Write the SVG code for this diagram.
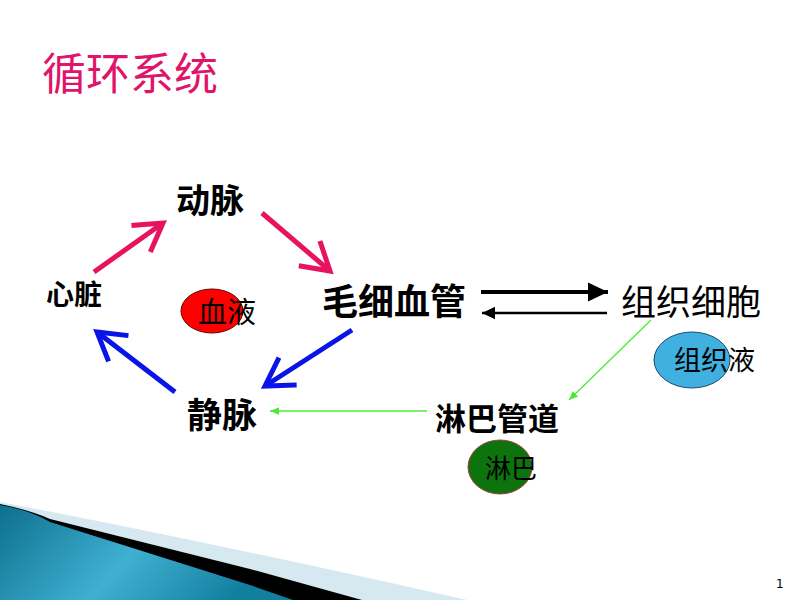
<svg xmlns="http://www.w3.org/2000/svg" width="800" height="600" viewBox="0 0 800 600">
<style>
text{font-family:"Noto Sans CJK SC","Liberation Sans",sans-serif;fill:#000}
.b{font-weight:bold}
.pk{stroke:#e8135e;stroke-width:5;fill:none}
.bl{stroke:#0a14e6;stroke-width:5;fill:none}
.gr{stroke:#4fe83a;stroke-width:1.3;fill:none}
.bk{stroke:#000;fill:none}
</style>
<defs>
<linearGradient id="teal" x1="0" y1="0" x2="1" y2="0.3">
<stop offset="0" stop-color="#0d6f8d"/>
<stop offset="0.55" stop-color="#3fb0d2"/>
<stop offset="1" stop-color="#137f9f"/>
</linearGradient>
<marker id="mpk" markerWidth="8" markerHeight="8" refX="6" refY="4" orient="auto" markerUnits="strokeWidth"><path d="M1,1 L6,4 L1,7" stroke="#e8135e" stroke-width="1" fill="none" stroke-linecap="square"/></marker>
<marker id="mbl" markerWidth="8" markerHeight="8" refX="6" refY="4" orient="auto" markerUnits="strokeWidth"><path d="M1,1 L6,4 L1,7" stroke="#0a14e6" stroke-width="1" fill="none" stroke-linecap="square"/></marker>
<marker id="mbk" markerWidth="6" markerHeight="6" refX="5" refY="3" orient="auto" markerUnits="strokeWidth"><path d="M0,0.6 L5,3 L0,5.4 Z" fill="#000"/></marker>
<marker id="mgr" markerWidth="8" markerHeight="8" refX="7" refY="4" orient="auto" markerUnits="strokeWidth"><path d="M0,1 L7,4 L0,7 Z" fill="#4fe83a"/></marker>
</defs>
<rect width="800" height="600" fill="#fff"/>
<g id="decor">
<path d="M0,502 Q200,540 467,600 L0,600 Z" fill="#d6e8f0"/>
<path d="M0,504 Q30,510 50,519 L250,569 L362,600 L0,600 Z" fill="#000"/>
<path d="M0,505 Q30,510 50,522 L250,585 L293,600 L0,600 Z" fill="url(#teal)"/>
</g>
<text x="42" y="90" font-size="44" style="fill:#e0156a">循环系统</text>
<g id="connectors">
<line class="pk" x1="94" y1="272" x2="163" y2="223" marker-end="url(#mpk)"/>
<line class="pk" x1="262" y1="213" x2="330" y2="271" marker-end="url(#mpk)"/>
<line class="bl" x1="352" y1="330" x2="265" y2="386" marker-end="url(#mbl)"/>
<line class="bl" x1="175" y1="392" x2="97" y2="332" marker-end="url(#mbl)"/>
<line class="bk" stroke-width="4" x1="481" y1="292" x2="608" y2="292" marker-end="url(#mbk)"/>
<line class="bk" stroke-width="2.6" x1="607" y1="313" x2="482" y2="313" marker-end="url(#mbk)"/>
<line class="gr" x1="651" y1="320" x2="569" y2="400" marker-end="url(#mgr)"/>
<line class="gr" x1="427" y1="411" x2="270" y2="411" marker-end="url(#mgr)"/>
</g>
<g id="dongmai"><text class="b" x="176" y="213" font-size="34">动脉</text></g>
<g id="xinzang"><text class="b" x="46" y="305" font-size="28">心脏</text></g>
<g id="maoxiguan"><text class="b" x="322" y="315" font-size="36">毛细血管</text></g>
<g id="zuzhixibao"><text x="621" y="315" font-size="35">组织细胞</text></g>
<g id="jingmai"><text class="b" x="187" y="428" font-size="35">静脉</text></g>
<g id="linbaguandao"><text class="b" x="435" y="430" font-size="31">淋巴管道</text></g>
<g id="xueye"><ellipse cx="212" cy="311" rx="31" ry="22" fill="#f00" stroke="#600" stroke-width="1"/><text x="198" y="323" font-size="29">血液</text></g>
<g id="zuzhiye"><ellipse cx="692" cy="360" rx="38" ry="28" fill="#3fb0e0" stroke="#1a4a66" stroke-width="1"/><text x="674" y="370" font-size="27">组织液</text></g>
<g id="linba"><ellipse cx="500" cy="467" rx="32" ry="27" fill="#0d730d" stroke="#a04040" stroke-width="1"/><text x="485" y="478" font-size="26">淋巴</text></g>
<text x="776" y="588" font-size="12" style="font-family:'DejaVu Sans',sans-serif">1</text>
</svg>
